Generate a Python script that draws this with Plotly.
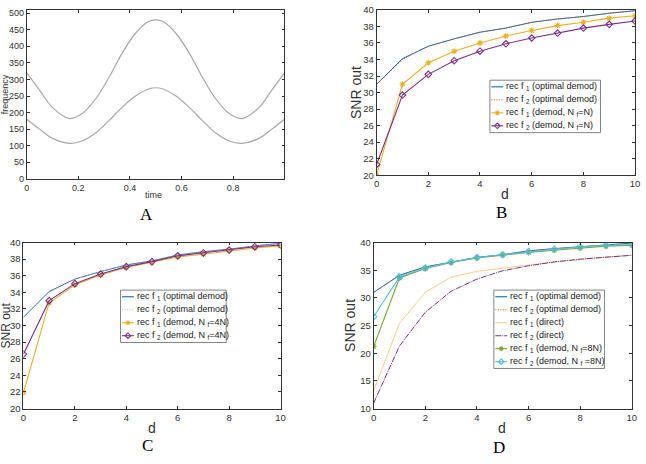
import plotly.graph_objects as go

W, H = 646, 464

# ---------------- Panel A data ----------------
time_pts = [0, 0.05, 0.1, 0.1667, 0.215, 0.267, 0.318, 0.369, 0.42, 0.472, 0.5,
            0.528, 0.58, 0.631, 0.682, 0.733, 0.785, 0.8333, 0.9, 0.95, 0.999]
freq_upper = [320, 268, 215, 182, 197, 241, 305, 378, 438, 475, 480,
              475, 438, 378, 305, 241, 197, 182, 215, 268, 320]
freq_lower = [180, 150, 122, 107, 114, 138, 175, 215, 249, 271, 275,
              271, 249, 215, 175, 138, 114, 107, 122, 150, 180]

# ---------------- Panels B-D data ----------------
d_vals = [0, 1, 2, 3, 4, 5, 6, 7, 8, 9, 10]
opt_f1 = [31.0, 34.1, 35.6, 36.5, 37.3, 37.8, 38.5, 38.9, 39.2, 39.6, 39.9]
opt_f2 = [31.0, 34.0, 35.6, 36.5, 37.3, 37.8, 38.5, 38.9, 39.2, 39.6, 39.9]

B_demod_f1 = [20.0, 31.0, 33.6, 35.0, 36.0, 36.85, 37.5, 38.1, 38.5, 39.0, 39.3]
B_demod_f2 = [21.3, 29.7, 32.2, 33.85, 35.0, 35.9, 36.6, 37.2, 37.8, 38.25, 38.65]

C_demod_f1 = [21.9, 32.75, 34.9, 36.1, 37.0, 37.6, 38.25, 38.6, 39.0, 39.35, 39.6]
C_demod_f2 = [26.55, 33.0, 35.05, 36.2, 37.1, 37.7, 38.4, 38.75, 39.1, 39.5, 39.7]

D_direct_f1 = [13.2, 25.4, 31.0, 33.75, 34.8, 35.4, 35.9, 36.5, 36.9, 37.4, 37.7]
D_direct_f2 = [11.0, 21.3, 27.4, 31.2, 33.4, 34.9, 35.8, 36.5, 37.0, 37.4, 37.7]
D_demod_f1 = [21.2, 33.6, 35.3, 36.4, 37.2, 37.75, 38.2, 38.6, 39.0, 39.35, 39.5]
D_demod_f2 = [26.6, 33.8, 35.4, 36.5, 37.3, 37.8, 38.4, 38.8, 39.2, 39.5, 39.65]

# tick definitions
A_xticks = [0, 0.2, 0.4, 0.6, 0.8]
A_xticktext = ['0', '0.2', '0.4', '0.6', '0.8']
A_yticks = [0, 50, 100, 150, 200, 250, 300, 350, 400, 450, 500]
d_ticks = [0, 2, 4, 6, 8, 10]
snr_ticks_BC = [20, 22, 24, 26, 28, 30, 32, 34, 36, 38, 40]
snr_ticks_D = [10, 15, 20, 25, 30, 35, 40]

# legend labels
LBL_OPT1 = 'rec f <sub>1</sub> (optimal demod)'
LBL_OPT2 = 'rec f <sub>2</sub> (optimal demod)'
LBL_B1 = 'rec f <sub>1</sub> (demod, N <sub>f</sub>=N)'
LBL_B2 = 'rec f <sub>2</sub> (demod, N <sub>f</sub>=N)'
LBL_C1 = 'rec f <sub>1</sub> (demod, N <sub>f</sub>=4N)'
LBL_C2 = 'rec f <sub>2</sub> (demod, N <sub>f</sub>=4N)'
LBL_DIR1 = 'rec f <sub>1</sub> (direct)'
LBL_DIR2 = 'rec f <sub>2</sub> (direct)'
LBL_D1 = 'rec f <sub>1</sub> (demod, N <sub>f</sub>=8N)'
LBL_D2 = 'rec f <sub>2</sub> (demod, N <sub>f</sub> =8N)'

# colours
BLUE = '#0072BD'
ORANGE = '#D95319'
PINK = '#E8A8A8'
YELLOW = '#EDB120'
PALE_YELLOW = '#F2D08A'
PURPLE = '#7E2F8E'
GREEN = '#77AC30'
CYAN = '#4DBEEE'
FINE_DOT = '1px,1.5px'
DIRECT_DASH = '6px,1px,1px,1px'

SANS = 'Liberation Sans, Arial, sans-serif'
SERIF = 'Liberation Serif, Times New Roman, serif'


def px_x(p):
    return p / W


def px_y(p):
    return 1 - p / H


fig = go.Figure()

# ---- Panel A ----
for vals, nm in ((freq_upper, 'upper'), (freq_lower, 'lower')):
    fig.add_trace(go.Scatter(x=time_pts, y=vals, mode='lines', name=nm,
                             line=dict(color='#a8a8a8', width=1.2, shape='spline', smoothing=1.0),
                             showlegend=False, xaxis='x', yaxis='y', hoverinfo='skip'))


def line_trace(y, xa, ya, name, color, dash='solid', marker=None, width=1.0):
    kw = dict(x=d_vals, y=y, name=name, xaxis=xa, yaxis=ya, showlegend=False,
              line=dict(color=color, width=width, dash=dash))
    if marker:
        kw['mode'] = 'lines+markers'
        sym = 'asterisk-open' if marker == 'asterisk' else 'diamond-open'
        kw['marker'] = dict(symbol=sym, size=5, color=color, line=dict(width=1.1, color=color))
    else:
        kw['mode'] = 'lines'
    fig.add_trace(go.Scatter(**kw))


B_entries = [
    (opt_f1, LBL_OPT1, BLUE, 'solid', None),
    (opt_f2, LBL_OPT2, ORANGE, FINE_DOT, None),
    (B_demod_f1, LBL_B1, YELLOW, 'solid', 'asterisk'),
    (B_demod_f2, LBL_B2, PURPLE, 'solid', 'diamond'),
]
C_entries = [
    (opt_f1, LBL_OPT1, BLUE, 'solid', None),
    (opt_f2, LBL_OPT2, PINK, FINE_DOT, None),
    (C_demod_f1, LBL_C1, YELLOW, 'solid', 'asterisk'),
    (C_demod_f2, LBL_C2, PURPLE, 'solid', 'diamond'),
]
D_entries = [
    (opt_f1, LBL_OPT1, BLUE, 'solid', None),
    (opt_f2, LBL_OPT2, ORANGE, FINE_DOT, None),
    (D_direct_f1, LBL_DIR1, PALE_YELLOW, 'solid', None),
    (D_direct_f2, LBL_DIR2, PURPLE, DIRECT_DASH, None),
    (D_demod_f1, LBL_D1, GREEN, 'solid', 'asterisk'),
    (D_demod_f2, LBL_D2, CYAN, 'solid', 'diamond'),
]

for entries, xa, ya in ((B_entries, 'x2', 'y2'), (C_entries, 'x3', 'y3'), (D_entries, 'x4', 'y4')):
    for y, lbl, col, dash, mk in entries:
        line_trace(y, xa, ya, lbl, col, dash, mk, width=1.1 if mk else 1.0)


def axis(domain, rng, tickvals, anchor, ticktext=None, size=9.5):
    d = dict(domain=domain, range=rng, tickvals=tickvals, anchor=anchor,
             showline=True, linecolor='#333', linewidth=0.8, mirror='ticks',
             ticks='inside', ticklen=3, tickcolor='#333', tickwidth=0.8,
             showgrid=False, zeroline=False, fixedrange=True,
             tickfont=dict(family=SANS, size=size, color='#333'))
    if ticktext is not None:
        d['ticktext'] = ticktext
    return d


# plot areas in pixels: (left, right, top, bottom)
A_box = (24, 285, 4, 177)
B_box = (378.3, 640, 4, 173.3)
C_box = (20.7, 281, 242.3, 412.3)
D_box = (375.3, 636.7, 242.3, 412.3)


def dom(box):
    l, r, t, b = box
    return [px_x(l), px_x(r)], [px_y(b), px_y(t)]


Ax, Ay = dom(A_box)
Bx, By = dom(B_box)
Cx, Cy = dom(C_box)
Dx, Dy = dom(D_box)

fig.update_layout(
    width=W, height=H, margin=dict(l=0, r=0, t=0, b=0),
    paper_bgcolor='white', plot_bgcolor='white', showlegend=False,
    xaxis=axis(Ax, [0, 0.999], A_xticks, 'y', ticktext=A_xticktext, size=9),
    yaxis=axis(Ay, [0, 510], A_yticks, 'x', size=9),
    xaxis2=axis(Bx, [0, 10], d_ticks, 'y2'),
    yaxis2=axis(By, [20, 40], snr_ticks_BC, 'x2'),
    xaxis3=axis(Cx, [0, 10], d_ticks, 'y3'),
    yaxis3=axis(Cy, [20, 40], snr_ticks_BC, 'x3'),
    xaxis4=axis(Dx, [0, 10], d_ticks, 'y4'),
    yaxis4=axis(Dy, [10, 40], snr_ticks_D, 'x4'),
)


def note(text, xp, yp, size, angle=0, family=SANS, color='#333', xanchor='center'):
    fig.add_annotation(text=text, x=px_x(xp), y=px_y(yp), xref='paper', yref='paper',
                       showarrow=False, xanchor=xanchor, yanchor='middle', textangle=angle,
                       font=dict(family=family, size=size, color=color))


# ---- compact MATLAB-style legends (layout decoration) ----
ENTRY_H = 13.3


def draw_legend(left, top, width, entries):
    n = len(entries)
    fig.add_shape(type='rect', xref='paper', yref='paper',
                  x0=px_x(left), x1=px_x(left + width), y0=px_y(top), y1=px_y(top + ENTRY_H * n + 0.5),
                  line=dict(color='#666', width=0.8), fillcolor='white', layer='above')
    for i, (_, lbl, col, dash, mk) in enumerate(entries):
        cy = top + 6.8 + ENTRY_H * i
        fig.add_shape(type='line', xref='paper', yref='paper',
                      x0=px_x(left + 1.5), x1=px_x(left + 13.5), y0=px_y(cy), y1=px_y(cy),
                      line=dict(color=col, width=1.1, dash=dash), layer='above')
        cx = left + 7.5
        r = 2.4
        if mk == 'asterisk':
            rr = r * 0.72
            path = (f'M {px_x(cx - r)} {px_y(cy)} L {px_x(cx + r)} {px_y(cy)} '
                    f'M {px_x(cx)} {px_y(cy - r)} L {px_x(cx)} {px_y(cy + r)} '
                    f'M {px_x(cx - rr)} {px_y(cy - rr)} L {px_x(cx + rr)} {px_y(cy + rr)} '
                    f'M {px_x(cx - rr)} {px_y(cy + rr)} L {px_x(cx + rr)} {px_y(cy - rr)}')
            fig.add_shape(type='path', xref='paper', yref='paper', path=path,
                          line=dict(color=col, width=1.1), layer='above')
        elif mk == 'diamond':
            r = 2.8
            path = (f'M {px_x(cx - r)} {px_y(cy)} L {px_x(cx)} {px_y(cy - r)} '
                    f'L {px_x(cx + r)} {px_y(cy)} L {px_x(cx)} {px_y(cy + r)} Z')
            fig.add_shape(type='path', xref='paper', yref='paper', path=path,
                          line=dict(color=col, width=1.1), fillcolor='rgba(0,0,0,0)', layer='above')
        note(lbl, left + 14.5, cy, 9, color='#222', xanchor='left')


draw_legend(493, 76, 112, B_entries)
draw_legend(119, 291, 107, C_entries)
draw_legend(497, 291, 112, D_entries)

# axis titles
note('time', 152, 194, 9)
note('frequency', 1.5, 90, 9, angle=-90)
note('d', 508.7, 193, 14)
note('SNR out', 358, 88.5, 14, angle=-90)
note('d', 150.7, 432, 14)
note('SNR out', 3.3, 327, 12, angle=-90)
note('d', 505, 432.3, 14)
note('SNR out', 352, 327, 14, angle=-90)

# panel letters
note('A', 145.5, 214, 17, family=SERIF, color='black')
note('B', 504.5, 212, 17, family=SERIF, color='black')
note('C', 146, 450.5, 17, family=SERIF, color='black')
note('D', 502.5, 452, 17, family=SERIF, color='black')

fig.write_html('out.html')
